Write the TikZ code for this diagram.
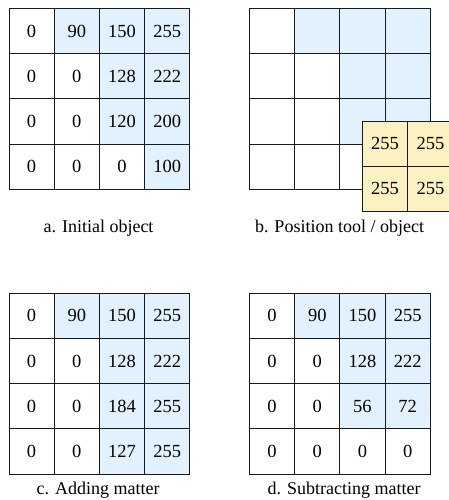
\documentclass[tikz,border=0pt]{standalone}
\usepackage{fontspec}
\setmainfont{Liberation Serif}
\definecolor{bluef}{HTML}{E1F1FD}
\definecolor{yel}{HTML}{FCF1C0}
\definecolor{linec}{HTML}{1A1A1A}
\tikzset{
  cell/.style={draw=linec, line width=0.9pt, minimum width=45.2pt, minimum height=45.2pt,
    inner sep=0pt, anchor=north west, font=\fontsize{18.5}{18.5}\selectfont},
  bcell/.style={cell, fill=bluef},
  wcell/.style={cell, fill=white},
  ycell/.style={cell, fill=yel, minimum width=45.6pt, minimum height=45pt},
  captxt/.style={font=\fontsize{18}{18}\selectfont, inner sep=0pt}
}
\newcommand{\mygrid}[4]{%
  \foreach \s/\t [count=\i from 0] in {#4} {
    \pgfmathtruncatemacro{\cc}{mod(\i,4)}
    \pgfmathtruncatemacro{\rr}{div(\i,4)}
    \node[\s] (#1-\rr-\cc) at ({#2+45.2*\cc},{-(#3+45.2*\rr)}) {\t};
  }%
}
\begin{document}
\begin{tikzpicture}[x=1pt,y=1pt]
\useasboundingbox (0,0) rectangle (449,-500);
% a
\mygrid{a}{8.5}{8}{wcell/0,bcell/90,bcell/150,bcell/255, wcell/0,wcell/0,bcell/128,bcell/222, wcell/0,wcell/0,bcell/120,bcell/200, wcell/0,wcell/0,wcell/0,bcell/100}
\node[captxt] (capa) at (98.5,-228) {a. Initial object};
% b
\mygrid{g}{249}{8}{wcell/,bcell/,bcell/,bcell/, wcell/,wcell/,bcell/,bcell/, wcell/,wcell/,bcell/,bcell/, wcell/,wcell/,wcell/,bcell/}
\node[ycell] (y00) at (361.7,-120.5) {255};
\node[ycell] (y01) at (407.3,-120.5) {255};
\node[ycell] (y10) at (361.7,-165.5) {255};
\node[ycell] (y11) at (407.3,-165.5) {255};
\node[captxt] (capb) at (339.5,-228) {b. Position tool / object};
% c
\mygrid{c}{8.5}{292.7}{wcell/0,bcell/90,bcell/150,bcell/255, wcell/0,wcell/0,bcell/128,bcell/222, wcell/0,wcell/0,bcell/184,bcell/255, wcell/0,wcell/0,bcell/127,bcell/255}
\node[captxt] (capc) at (98,-490.5) {c. Adding matter};
% d
\mygrid{d}{249}{292.7}{wcell/0,bcell/90,bcell/150,bcell/255, wcell/0,wcell/0,bcell/128,bcell/222, wcell/0,wcell/0,bcell/56,bcell/72, wcell/0,wcell/0,wcell/0,wcell/0}
\node[captxt] (capd) at (344,-490.5) {d. Subtracting matter};
\end{tikzpicture}
\end{document}
